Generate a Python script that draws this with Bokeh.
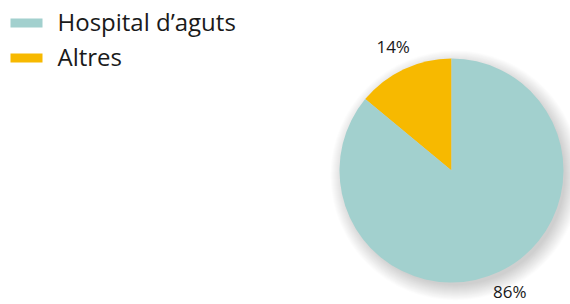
import math
from bokeh.plotting import figure
from bokeh.models import Range1d, ColumnDataSource
from bokeh.core.properties import value
from bokeh.embed import file_html
from bokeh.resources import INLINE

# ---- data ----
categories = ["Hospital d\u2019aguts", "Altres"]
values = [86, 14]
colors = ["#A2D0CE", "#F7B900"]
pct_labels = ["86%", "14%"]

# ---- layout (picture pixel coordinates) ----
W, H = 570, 304
FONT = "Open Sans"
cx, cy_page, R = 451, 170, 112
label_r = 137

def py(page_y):
    return H - page_y

p = figure(width=W, height=H, output_backend="svg", toolbar_location=None,
           x_range=Range1d(0, W), y_range=Range1d(0, H),
           min_border=0, outline_line_color=None)
p.axis.visible = False
p.grid.visible = False
p.background_fill_color = "white"
p.border_fill_color = "white"

# soft shadow
for k in range(16):
    p.circle(x=[cx + 4], y=[py(cy_page + 5)], radius=R + 13 - k, radius_units="screen",
             fill_color="black", fill_alpha=0.011, line_color=None)

# pie wedges: Altres starts at 12 o'clock going counter-clockwise, then Hospital
total = sum(values)
order = [1, 0]
start = math.pi / 2
starts, ends, cols, mids = [], [], [], []
for i in order:
    frac = values[i] / total
    end = start + 2 * math.pi * frac
    starts.append(start); ends.append(end); cols.append(colors[i])
    mids.append((start + end) / 2)
    start = end

src = ColumnDataSource(dict(x=[cx] * len(order), y=[py(cy_page)] * len(order),
                            start=starts, end=ends, color=cols))
p.wedge(x="x", y="y", radius=R, radius_units="screen", start_angle="start",
        end_angle="end", direction="anticlock", fill_color="color",
        line_color=None, source=src)

# percentage labels
lx = [cx + label_r * math.cos(m) for m in mids]
ly = [py(cy_page) + label_r * math.sin(m) for m in mids]
ly = [max(v, 13) for v in ly]  # keep the bottom label inside the picture
p.text(x=lx, y=ly, text=[pct_labels[i] for i in order], text_align="center",
       text_baseline="middle", text_font=value(FONT), text_font_size="17px",
       text_color="#1a1a1a")

# legend
row0, spacing = 22.5, 35
ys = [py(row0 + i * spacing) for i in range(len(categories))]
p.rect(x=[26] * len(categories), y=ys, width=32, height=9, width_units="screen",
       height_units="screen", fill_color=colors, line_color=None)
p.text(x=[57] * len(categories), y=[v + 2 for v in ys], text=categories,
       text_align="left", text_baseline="middle", text_font=value(FONT),
       text_font_size="24px", text_color="#1a1a1a")

open("out.html", "w").write(file_html(p, INLINE))
